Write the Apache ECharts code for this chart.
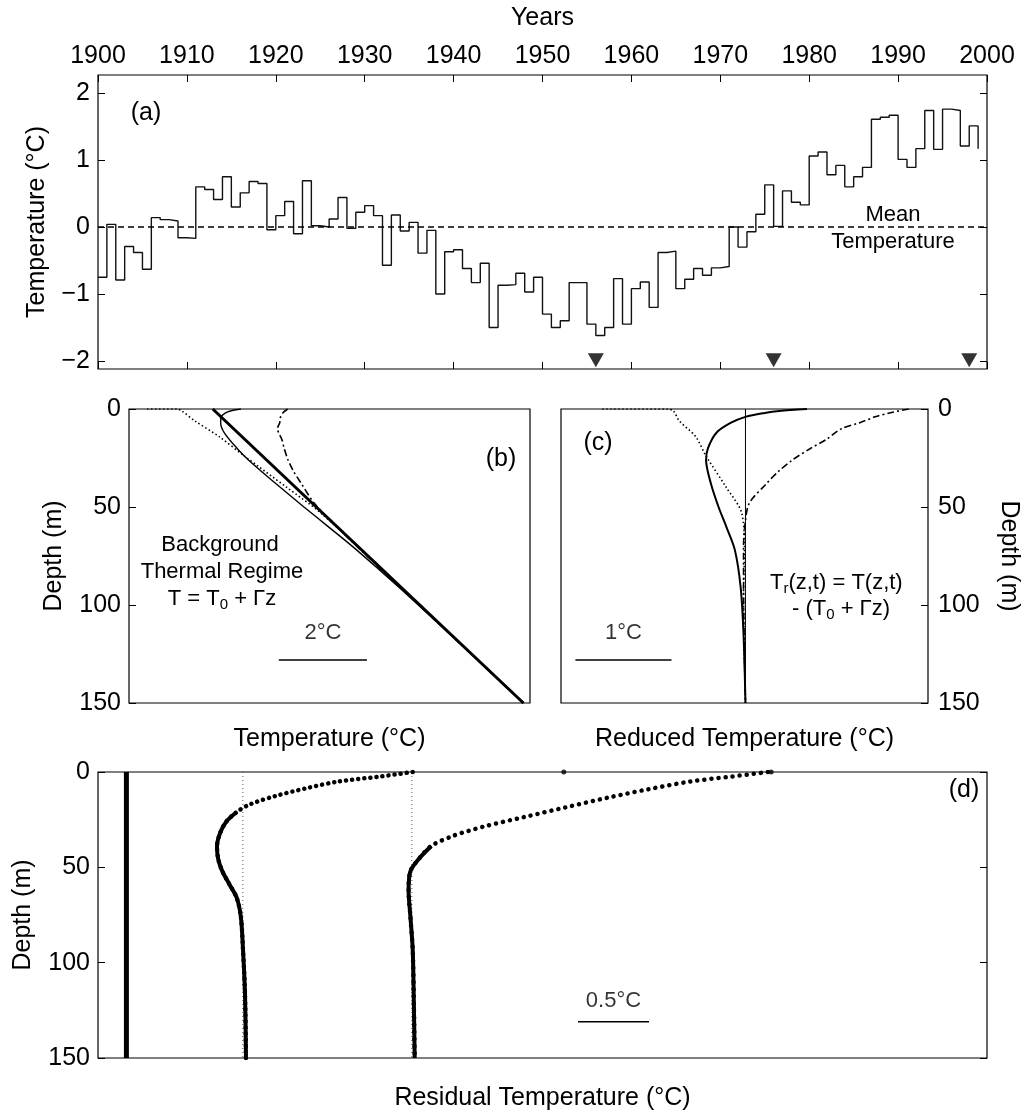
<!DOCTYPE html>
<html>
<head>
<meta charset="utf-8">
<script src="https://cdn.jsdelivr.net/npm/echarts@6/dist/echarts.min.js"></script>
<style>
  html, body { margin: 0; padding: 0; background: #fff; }
  #chart { width: 1034px; height: 1112px; }
</style>
</head>
<body>
<div id="chart"></div>
<script>
// ---- panel (a): annual temperature anomaly, 1900-1999 ----
var startYear = 1900;
var annualTemp = [
  -0.75, 0.04, -0.79, -0.29, -0.38, -0.63, 0.14, 0.11, 0.09, -0.16,
  -0.17, 0.60, 0.56, 0.41, 0.75, 0.30, 0.51, 0.68, 0.65, -0.04,
  0.17, 0.38, -0.10, 0.69, 0.02, 0.00, 0.12, 0.44, -0.02, 0.22,
  0.32, 0.17, -0.57, 0.18, -0.06, 0.07, -0.39, -0.05, -1.00, -0.37,
  -0.34, -0.62, -0.83, -0.54, -1.50, -0.87, -0.86, -0.69, -0.97, -0.75,
  -1.30, -1.50, -1.40, -0.83, -0.83, -1.45, -1.62, -1.50, -0.77, -1.45,
  -0.92, -0.82, -1.20, -0.38, -0.36, -0.92, -0.78, -0.62, -0.72, -0.61,
  -0.59, 0.00, -0.30, -0.07, 0.19, 0.63, 0.01, 0.54, 0.37, 0.33,
  1.06, 1.12, 0.78, 0.92, 0.60, 0.75, 0.89, 1.61, 1.64, 1.67,
  1.01, 0.89, 1.17, 1.74, 1.16, 1.76, 1.74, 1.21, 1.51, 1.17
];
var markerYears = [1956, 1976, 1998];
var tempTicks = [-2, -1, 0, 1, 2];

// ---- panel (b): temperature profiles (deg C vs depth m) ----
var bgDepth = [0, 150];
var bgTemp = [1.9, 8.95];
var bSolidDepth = [0, 1, 2, 4, 7, 12, 20, 26, 38, 50, 60, 72, 91, 115, 150];
var bSolidTemp = [2.54, 2.30, 2.19, 2.09, 2.08, 2.16, 2.45, 2.71, 3.33, 3.97, 4.52, 5.17, 6.13, 7.29, 8.95];
var bDotDepth = [0, 0, 1, 6, 14, 24, 40, 53, 73, 94, 150];
var bDotTemp = [0.41, 1.09, 1.20, 1.49, 2.04, 2.62, 3.58, 4.35, 5.32, 6.30, 8.95];
var bDashDepth = [0, 2, 4, 7, 10, 15.6, 20, 26, 32, 38, 48, 57, 70, 90, 150];
var bDashTemp = [3.6, 3.49, 3.44, 3.42, 3.37, 3.47, 3.52, 3.61, 3.74, 3.91, 4.20, 4.58, 5.17, 6.11, 8.95];

// ---- panel (c): reduced temperature ----
var cSolidDepth = [0, 1, 2, 4, 7, 12, 20, 26, 38, 50, 60, 72, 91, 115, 150];
var cSolidTemp = [0.64, 0.35, 0.2, 0, -0.15, -0.3, -0.39, -0.41, -0.36, -0.28, -0.2, -0.11, -0.05, -0.02, 0];
var cDotDepth = [0, 0, 1, 6, 14, 24, 40, 53, 73, 94, 150];
var cDotTemp = [-1.49, -0.81, -0.75, -0.69, -0.52, -0.41, -0.2, -0.04, -0.01, -0.02, 0];
var cDashDepth = [0, 2, 4, 7, 10, 15.6, 20, 26, 32, 38, 48, 57, 70, 90, 150];
var cDashTemp = [1.7, 1.5, 1.35, 1.19, 1.0, 0.84, 0.68, 0.49, 0.34, 0.22, 0.04, 0, -0.02, -0.02, 0];

// ---- panel (d): residual temperature (offset columns) ----
var dBaseTemp = 0.2;
var dGuideTemps = [1.02, 2.21];
var d1Depth = [0, 2.4, 5, 8.4, 12.5, 16.9, 21, 26, 32, 39, 45.5, 52, 59, 66, 76, 93, 116, 150];
var d1Temp = [2.216, 1.983, 1.691, 1.473, 1.254, 1.072, 0.977, 0.904, 0.860, 0.838, 0.846, 0.875, 0.926, 0.977, 1.006, 1.021, 1.035, 1.042];
var d2Depth = [0, 2.4, 5, 9, 13.5, 18.5, 23.6, 28.7, 33.7, 38.8, 45.5, 52, 62, 76, 93, 116, 150];
var d2Temp = [4.717, 4.461, 4.17, 3.878, 3.587, 3.295, 3.003, 2.712, 2.493, 2.347, 2.26, 2.2, 2.187, 2.2, 2.216, 2.223, 2.23];
var dSurfaceDots = [3.28, 4.74];

var FONT = 'Liberation Sans';
var INK = '#000';

function pairs(xs, ys) {
  return xs.map(function (x, i) { return [x, ys[i]]; });
}
function profile(temps, depths) {
  return temps.map(function (t, i) { return [t, depths[i]]; });
}
function minus(v) { return String(v).replace('-', '\u2212'); }

var tick = { show: true, inside: true, length: 7, lineStyle: { color: INK, width: 1 } };
var noLine = { show: false, onZero: false };

var years = annualTemp.map(function (v, i) { return startYear + i; });

var myChart = echarts.init(document.getElementById('chart'));

var option = {
  animation: false,
  backgroundColor: '#fff',
  textStyle: { fontFamily: FONT, color: INK },
  grid: [
    { left: 98, top: 75, width: 889, height: 294, show: true, borderColor: INK, borderWidth: 1.2 },
    { left: 129, top: 409, width: 401, height: 294, show: true, borderColor: INK, borderWidth: 1.2 },
    { left: 561, top: 409, width: 367, height: 294, show: true, borderColor: INK, borderWidth: 1.2 },
    { left: 98, top: 772, width: 889, height: 293, show: true, borderColor: INK, borderWidth: 1.2 }
  ],
  xAxis: [
    { gridIndex: 0, type: 'value', position: 'top', min: 1900, max: 2000, interval: 10,
      axisLine: noLine, splitLine: { show: false }, axisTick: tick,
      axisLabel: { color: INK, fontSize: 25, fontFamily: FONT, margin: 6, formatter: function (v) { return String(v); } },
      name: 'Years', nameLocation: 'middle', nameGap: 44,
      nameTextStyle: { color: INK, fontSize: 25, fontFamily: FONT } },
    { gridIndex: 0, type: 'value', position: 'bottom', min: 1900, max: 2000, interval: 10,
      axisLine: noLine, splitLine: { show: false }, axisTick: tick, axisLabel: { show: false } },
    { gridIndex: 1, type: 'value', min: 0, max: 9.1,
      axisLine: noLine, splitLine: { show: false }, axisTick: { show: false }, axisLabel: { show: false },
      name: 'Temperature (°C)', nameLocation: 'middle', nameGap: 24,
      nameTextStyle: { color: INK, fontSize: 25, fontFamily: FONT } },
    { gridIndex: 2, type: 'value', min: -1.92, max: 1.9,
      axisLine: noLine, splitLine: { show: false }, axisTick: { show: false }, axisLabel: { show: false },
      name: 'Reduced Temperature (°C)', nameLocation: 'middle', nameGap: 24,
      nameTextStyle: { color: INK, fontSize: 25, fontFamily: FONT } },
    { gridIndex: 3, type: 'value', min: 0, max: 6.26,
      axisLine: noLine, splitLine: { show: false }, axisTick: { show: false }, axisLabel: { show: false },
      name: 'Residual Temperature (°C)', nameLocation: 'middle', nameGap: 28,
      nameTextStyle: { color: INK, fontSize: 25, fontFamily: FONT } }
  ],
  yAxis: [
    { gridIndex: 0, type: 'value', position: 'left', min: -2.12, max: 2.27,
      axisLine: noLine, splitLine: { show: false },
      axisTick: Object.assign({ customValues: tempTicks }, tick),
      axisLabel: { customValues: tempTicks, color: INK, fontSize: 25, fontFamily: FONT, margin: 8, formatter: minus },
      name: 'Temperature (°C)', nameLocation: 'middle', nameGap: 48, nameRotate: 90,
      nameTextStyle: { color: INK, fontSize: 25, fontFamily: FONT } },
    { gridIndex: 0, type: 'value', position: 'right', min: -2.12, max: 2.27,
      axisLine: noLine, splitLine: { show: false },
      axisTick: Object.assign({ customValues: tempTicks }, tick), axisLabel: { show: false } },
    { gridIndex: 1, type: 'value', position: 'left', inverse: true, min: 0, max: 150, interval: 50,
      axisLine: noLine, splitLine: { show: false }, axisTick: tick,
      axisLabel: { color: INK, fontSize: 25, fontFamily: FONT, margin: 8 },
      name: 'Depth (m)', nameLocation: 'middle', nameGap: 62, nameRotate: 90,
      nameTextStyle: { color: INK, fontSize: 25, fontFamily: FONT } },
    { gridIndex: 2, type: 'value', position: 'right', inverse: true, min: 0, max: 150, interval: 50,
      axisLine: noLine, splitLine: { show: false }, axisTick: tick,
      axisLabel: { color: INK, fontSize: 25, fontFamily: FONT, margin: 10 },
      name: 'Depth (m)', nameLocation: 'middle', nameGap: 68, nameRotate: -90,
      nameTextStyle: { color: INK, fontSize: 25, fontFamily: FONT } },
    { gridIndex: 3, type: 'value', position: 'left', inverse: true, min: 0, max: 150, interval: 50,
      axisLine: noLine, splitLine: { show: false }, axisTick: tick,
      axisLabel: { color: INK, fontSize: 25, fontFamily: FONT, margin: 8 },
      name: 'Depth (m)', nameLocation: 'middle', nameGap: 62, nameRotate: 90,
      nameTextStyle: { color: INK, fontSize: 25, fontFamily: FONT } },
    { gridIndex: 3, type: 'value', position: 'right', inverse: true, min: 0, max: 150, interval: 50,
      axisLine: noLine, splitLine: { show: false }, axisTick: tick, axisLabel: { show: false } }
  ],
  series: [
    // (a)
    { type: 'line', xAxisIndex: 0, yAxisIndex: 0, step: 'end', symbol: 'none',
      data: pairs(years, annualTemp), lineStyle: { color: '#111', width: 1.4 },
      markLine: { silent: true, symbol: 'none', label: { show: false },
        lineStyle: { color: INK, type: [6, 4], width: 1.6 }, data: [{ yAxis: 0 }] } },
    { type: 'scatter', xAxisIndex: 0, yAxisIndex: 0, symbol: 'triangle', symbolRotate: 180,
      symbolSize: [16, 14], itemStyle: { color: INK },
      data: markerYears.map(function (y) { return [y, -1.99]; }) },
    // (b)
    { type: 'line', xAxisIndex: 2, yAxisIndex: 2, symbol: 'none', data: profile(bgTemp, bgDepth),
      lineStyle: { color: INK, width: 3 } },
    { type: 'line', xAxisIndex: 2, yAxisIndex: 2, symbol: 'none', smooth: 0.3, data: profile(bSolidTemp, bSolidDepth),
      lineStyle: { color: INK, width: 1.4 } },
    { type: 'line', xAxisIndex: 2, yAxisIndex: 2, symbol: 'none', smooth: 0.3, data: profile(bDotTemp, bDotDepth),
      lineStyle: { color: INK, width: 1.6, type: [1.5, 2.5] } },
    { type: 'line', xAxisIndex: 2, yAxisIndex: 2, symbol: 'none', smooth: 0.3, data: profile(bDashTemp, bDashDepth),
      lineStyle: { color: INK, width: 1.6, type: [7, 3, 2, 3] } },
    { type: 'line', xAxisIndex: 2, yAxisIndex: 2, symbol: 'none', data: [[3.4, 128], [5.4, 128]],
      lineStyle: { color: INK, width: 1.5 } },
    { type: 'scatter', xAxisIndex: 2, yAxisIndex: 2, symbolSize: 0, data: [[4.4, 114]],
      label: { show: true, position: 'inside', formatter: '2°C', color: INK, fontSize: 22, fontFamily: FONT } },
    // (c)
    { type: 'line', xAxisIndex: 3, yAxisIndex: 3, symbol: 'none', data: [[0, 0], [0, 150]],
      lineStyle: { color: INK, width: 1 } },
    { type: 'line', xAxisIndex: 3, yAxisIndex: 3, symbol: 'none', smooth: 0.3, data: profile(cSolidTemp, cSolidDepth),
      lineStyle: { color: INK, width: 2 } },
    { type: 'line', xAxisIndex: 3, yAxisIndex: 3, symbol: 'none', smooth: 0.3, data: profile(cDotTemp, cDotDepth),
      lineStyle: { color: INK, width: 1.6, type: [1.5, 2.5] } },
    { type: 'line', xAxisIndex: 3, yAxisIndex: 3, symbol: 'none', smooth: 0.3, data: profile(cDashTemp, cDashDepth),
      lineStyle: { color: INK, width: 1.6, type: [7, 3, 2, 3] } },
    { type: 'line', xAxisIndex: 3, yAxisIndex: 3, symbol: 'none', data: [[-1.77, 128], [-0.77, 128]],
      lineStyle: { color: INK, width: 1.5 } },
    { type: 'scatter', xAxisIndex: 3, yAxisIndex: 3, symbolSize: 0, data: [[-1.27, 114]],
      label: { show: true, position: 'inside', formatter: '1°C', color: INK, fontSize: 22, fontFamily: FONT } },
    // (d)
    { type: 'line', xAxisIndex: 4, yAxisIndex: 4, symbol: 'none', data: [[dBaseTemp, 0], [dBaseTemp, 150]],
      lineStyle: { color: INK, width: 5 } },
    { type: 'line', xAxisIndex: 4, yAxisIndex: 4, symbol: 'none', data: [[dGuideTemps[0], 0], [dGuideTemps[0], 150]],
      lineStyle: { color: '#555', width: 1, type: [1, 3] } },
    { type: 'line', xAxisIndex: 4, yAxisIndex: 4, symbol: 'none', data: [[dGuideTemps[1], 0], [dGuideTemps[1], 150]],
      lineStyle: { color: '#555', width: 1, type: [1, 3] } },
    { type: 'line', xAxisIndex: 4, yAxisIndex: 4, symbol: 'none', smooth: 0.3, data: profile(d1Temp, d1Depth),
      lineStyle: { color: INK, width: 4.5, type: [0.1, 6], cap: 'round' } },
    { type: 'line', xAxisIndex: 4, yAxisIndex: 4, symbol: 'none', smooth: 0.3, data: profile(d1Temp.slice(6), d1Depth.slice(6)),
      lineStyle: { color: INK, width: 4 } },
    { type: 'line', xAxisIndex: 4, yAxisIndex: 4, symbol: 'none', smooth: 0.3, data: profile(d2Temp, d2Depth),
      lineStyle: { color: INK, width: 4.5, type: [0.1, 7], cap: 'round' } },
    { type: 'line', xAxisIndex: 4, yAxisIndex: 4, symbol: 'none', smooth: 0.3, data: profile(d2Temp.slice(9), d2Depth.slice(9)),
      lineStyle: { color: INK, width: 4 } },
    { type: 'scatter', xAxisIndex: 4, yAxisIndex: 4, symbolSize: 5, itemStyle: { color: INK },
      data: dSurfaceDots.map(function (t) { return [t, 0]; }) },
    { type: 'line', xAxisIndex: 4, yAxisIndex: 4, symbol: 'none', data: [[3.38, 131], [3.88, 131]],
      lineStyle: { color: INK, width: 1.5 } },
    { type: 'scatter', xAxisIndex: 4, yAxisIndex: 4, symbolSize: 0, data: [[3.63, 120]],
      label: { show: true, position: 'inside', formatter: '0.5°C', color: INK, fontSize: 22, fontFamily: FONT } }
  ],
  graphic: [
    { type: 'text', x: 146, y: 113, style: { text: '(a)', fill: INK, font: '25px ' + FONT, align: 'center', verticalAlign: 'middle' } },
    { type: 'text', x: 501, y: 459, style: { text: '(b)', fill: INK, font: '25px ' + FONT, align: 'center', verticalAlign: 'middle' } },
    { type: 'text', x: 598, y: 443, style: { text: '(c)', fill: INK, font: '25px ' + FONT, align: 'center', verticalAlign: 'middle' } },
    { type: 'text', x: 964, y: 790, style: { text: '(d)', fill: INK, font: '25px ' + FONT, align: 'center', verticalAlign: 'middle' } },
    { type: 'text', x: 893, y: 215, style: { text: 'Mean', fill: INK, font: '22px ' + FONT, align: 'center', verticalAlign: 'middle' } },
    { type: 'text', x: 893, y: 242, style: { text: 'Temperature', fill: INK, font: '22px ' + FONT, align: 'center', verticalAlign: 'middle' } },
    { type: 'text', x: 220, y: 545, style: { text: 'Background', fill: INK, font: '22px ' + FONT, align: 'center', verticalAlign: 'middle' } },
    { type: 'text', x: 222, y: 572, style: { text: 'Thermal Regime', fill: INK, font: '22px ' + FONT, align: 'center', verticalAlign: 'middle' } },
    { type: 'text', x: 222, y: 599, style: { text: '{a|T = T}{s|0}{a| + Γz}', align: 'center', verticalAlign: 'middle',
      rich: { a: { fill: INK, fontSize: 22, fontFamily: FONT, lineHeight: 26 },
              s: { fill: INK, fontSize: 15, fontFamily: FONT, lineHeight: 26, verticalAlign: 'bottom', padding: [10, 0, 0, 0] } } } },
    { type: 'text', x: 770, y: 583, style: { text: '{a|T}{s|r}{a|(z,t) = T(z,t)}', align: 'left', verticalAlign: 'middle',
      rich: { a: { fill: INK, fontSize: 22, fontFamily: FONT, lineHeight: 26 },
              s: { fill: INK, fontSize: 15, fontFamily: FONT, lineHeight: 26, verticalAlign: 'bottom', padding: [10, 0, 0, 0] } } } },
    { type: 'text', x: 792, y: 609, style: { text: '{a|- (T}{s|0}{a| + Γz)}', align: 'left', verticalAlign: 'middle',
      rich: { a: { fill: INK, fontSize: 22, fontFamily: FONT, lineHeight: 26 },
              s: { fill: INK, fontSize: 15, fontFamily: FONT, lineHeight: 26, verticalAlign: 'bottom', padding: [10, 0, 0, 0] } } } }
  ]
};

myChart.setOption(option);
</script>
</body>
</html>
